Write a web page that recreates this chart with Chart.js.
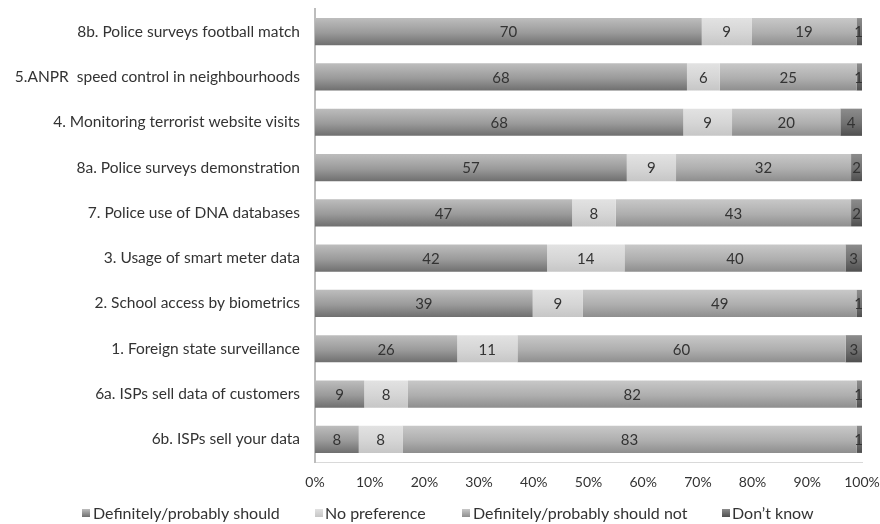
<!DOCTYPE html>
<html>
<head>
<meta charset="utf-8">
<script src="https://cdn.jsdelivr.net/npm/chart.js@4.4.1/dist/chart.umd.min.js"></script>
<style>
  html, body { margin: 0; padding: 0; background: #ffffff; }
  #wrap { width: 880px; height: 524px; }
</style>
</head>
<body>
<div id="wrap"><canvas id="chart" width="880" height="524"></canvas></div>
<script>
// Survey items, top row first
const categories = [
  '8b. Police surveys football match',
  '5.ANPR  speed control in neighbourhoods',
  '4. Monitoring terrorist website visits',
  '8a. Police surveys demonstration',
  '7. Police use of DNA databases',
  '3. Usage of smart meter data',
  '2. School access by biometrics',
  '1. Foreign state surveillance',
  '6a. ISPs sell data of customers',
  '6b. ISPs sell your data'
];

// Responses per item (percent of respondents)
const shouldValues    = [70, 68, 68, 57, 47, 42, 39, 26, 9, 8];
const noPrefValues    = [9, 6, 9, 9, 8, 14, 9, 11, 8, 8];
const shouldNotValues = [19, 25, 20, 32, 43, 40, 49, 60, 82, 83];
const dontKnowValues  = [1, 1, 4, 2, 2, 3, 1, 3, 1, 1];

const seriesNames = ['Definitely/probably should', 'No preference', 'Definitely/probably should not', 'Don\u2019t know'];
const xTickLabels = ['0%', '10%', '20%', '30%', '40%', '50%', '60%', '70%', '80%', '90%', '100%'];

const FONT = 'Lato, "Open Sans", sans-serif';

// Each row is shown as a share of its own total (100% stacked)
const rawSeries = [shouldValues, noPrefValues, shouldNotValues, dontKnowValues];
const rowTotals = categories.map((_, i) => rawSeries.reduce((s, arr) => s + arr[i], 0));
const toShare = arr => arr.map((v, i) => v / rowTotals[i] * 100);

// top / bottom shades of the vertical gradient for each series
const shades = [
  ['#bdbdbd', '#6f6f6f'],
  ['#e2e2e2', '#c6c6c6'],
  ['#c8c8c8', '#8e8e8e'],
  ['#8c8c8c', '#4f4f4f']
];

const BAR_PCT = 0.6;

function mix(a, b, t) {
  const pa = [1, 3, 5].map(k => parseInt(a.substr(k, 2), 16));
  const pb = [1, 3, 5].map(k => parseInt(b.substr(k, 2), 16));
  const m = pa.map((v, k) => Math.round(v + (pb[k] - v) * t));
  return 'rgb(' + m.join(',') + ')';
}

function gradientFill(idx) {
  return function (c) {
    const chart = c.chart;
    const y = chart.scales && chart.scales.y;
    const [top, bottom] = shades[idx];
    if (!y || c.type !== 'data' || !isFinite(y.getPixelForValue(0))) return top;
    const center = y.getPixelForValue(c.dataIndex);
    const half = (y.height / categories.length) * BAR_PCT / 2;
    const g = chart.ctx.createLinearGradient(0, center - half, 0, center + half);
    g.addColorStop(0, top);
    g.addColorStop(0.55, mix(top, bottom, 0.45));
    g.addColorStop(1, bottom);
    return g;
  };
}

const datasets = rawSeries.map((arr, idx) => ({
  label: seriesNames[idx],
  data: toShare(arr),
  raw: arr,
  backgroundColor: gradientFill(idx),
  borderWidth: 0,
  barPercentage: BAR_PCT,
  categoryPercentage: 1.0
}));

// Writes each segment's count in the middle of the segment
const segmentLabels = {
  id: 'segmentLabels',
  afterDatasetsDraw(chart) {
    const ctx = chart.ctx;
    ctx.save();
    ctx.font = '15px ' + FONT;
    ctx.fillStyle = '#333333';
    ctx.textAlign = 'center';
    ctx.textBaseline = 'middle';
    chart.data.datasets.forEach((ds, di) => {
      const meta = chart.getDatasetMeta(di);
      meta.data.forEach((bar, i) => {
        const txt = String(ds.raw[i]);
        const tw = ctx.measureText(txt).width;
        let x = (bar.x + bar.base) / 2;
        const w = Math.abs(bar.x - bar.base);
        if (tw > w) x = bar.x - tw / 2 + 1;
        ctx.fillText(txt, x, bar.y + 1);
      });
    });
    ctx.restore();
  }
};

// Legend row under the axis: small gradient square followed by the series name
const legendRow = {
  id: 'legendRow',
  afterDraw(chart) {
    const ctx = chart.ctx;
    const items = [
      { box: 82, text: 93 },
      { box: 315, text: 325 },
      { box: 462, text: 473 },
      { box: 722, text: 732 }
    ];
    const cy = 513;
    ctx.save();
    ctx.font = '16px ' + FONT;
    ctx.textBaseline = 'middle';
    items.forEach((it, idx) => {
      const g = ctx.createLinearGradient(0, cy - 4, 0, cy + 4);
      g.addColorStop(0, shades[idx][0]);
      g.addColorStop(1, shades[idx][1]);
      ctx.fillStyle = g;
      ctx.fillRect(it.box, cy - 4, 8, 8);
      ctx.fillStyle = '#333333';
      ctx.fillText(seriesNames[idx], it.text, cy + 1);
    });
    ctx.restore();
  }
};

new Chart(document.getElementById('chart'), {
  type: 'bar',
  data: { labels: categories, datasets },
  plugins: [segmentLabels, legendRow],
  options: {
    indexAxis: 'y',
    responsive: false,
    animation: false,
    layout: { padding: { top: 9, right: 0, bottom: 28, left: 0 } },
    scales: {
      x: {
        stacked: true,
        min: 0,
        max: 100,
        grid: { display: false, drawTicks: false },
        border: { display: true, color: '#d9d9d9', width: 1 },
        ticks: {
          stepSize: 10,
          padding: 12,
          color: '#333333',
          font: { family: FONT, size: 14 },
          callback: (v, i) => xTickLabels[i]
        },
        afterFit: s => { s.height = 34; s.paddingRight = 18; s.paddingLeft = 0; }
      },
      y: {
        stacked: true,
        grid: { display: false, drawTicks: false },
        border: { display: true, color: '#bdbdbd', width: 2 },
        ticks: {
          padding: 15,
          color: '#333333',
          font: { family: FONT, size: 15.5 }
        },
        afterFit: s => { s.width = 315; s.paddingTop = 0; s.paddingBottom = 0; }
      }
    },
    plugins: {
      legend: { display: false },
      tooltip: { enabled: false }
    }
  }
});
</script>
</body>
</html>
